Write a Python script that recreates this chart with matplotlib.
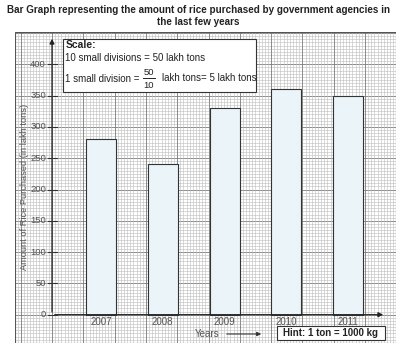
import numpy as np
import matplotlib.pyplot as plt

plt.rcParams['font.family'] = ['Liberation Sans', 'DejaVu Sans']

# data
years = ['2007', '2008', '2009', '2010', '2011']
rice = [280, 240, 330, 360, 350]
y_ticks = [0, 50, 100, 150, 200, 250, 300, 350, 400]

W, H = 415, 351
fig = plt.figure(figsize=(W / 100, H / 100), dpi=100)

# graph paper area in pixels
left, right, top, bottom = 15, 396, 32, 343
ax = fig.add_axes([left / W, 1 - bottom / H, (right - left) / W, (bottom - top) / H])

# pixel -> data mapping
x0_px, dx_px = 101, 61.75          # centre of first bar, spacing between bars
y0_px, py = 314.7, 0.626           # pixel of value 0, pixels per unit
def xd(p):
    return (p - x0_px) / dx_px
def yd(p):
    return (y0_px - p) / py

ax.set_xlim(xd(left), xd(right))
ax.set_ylim(yd(bottom), yd(top))
ax.axis('off')

# graph paper grid (5 units per small division)
step_y = 5
step_x = step_y * py / dx_px
ax_x = xd(52)
ys = np.arange(-50, 460, step_y)
xs = ax_x + np.arange(-12, 200) * step_x
for y in ys:
    major = (y % 50 == 0)
    ax.axhline(y, color='#7a7a7a' if major else '#bdbdbd', lw=0.6 if major else 0.4, zorder=0)
for i, x in enumerate(xs):
    major = ((i - 12) % 10 == 0)
    ax.axvline(x, color='#7a7a7a' if major else '#bdbdbd', lw=0.6 if major else 0.4, zorder=0)
ax.add_patch(plt.Rectangle((xd(left), yd(bottom)), xd(right) - xd(left), yd(top) - yd(bottom),
                           fill=False, ec='#555555', lw=0.8, zorder=1))

# bars
pos = np.arange(len(years))
ax.bar(pos, rice, width=30 / dx_px, color='#eaf4f9', edgecolor='#333333', lw=0.8, zorder=3)

# axes with arrows
ax.annotate('', xy=(ax_x, yd(36)), xytext=(ax_x, 0),
            arrowprops=dict(arrowstyle='-|>', color='#222222', lw=0.9, mutation_scale=7), zorder=4)
ax.annotate('', xy=(xd(386), 0), xytext=(ax_x, 0),
            arrowprops=dict(arrowstyle='-|>', color='#222222', lw=0.9, mutation_scale=7), zorder=4)

# y ticks
for t in y_ticks:
    ax.plot([xd(48), xd(57)], [t, t], color='#333333', lw=0.8, zorder=4)
    ax.text(xd(46), t, str(t), ha='right', va='center', fontsize=6.8, color='#555555', zorder=5)
ax.text(xd(25), (yd(100) + yd(273)) / 2, 'Amount of Rice Purchased (in lakh tons)', rotation=90,
        ha='center', va='center', fontsize=6.7, color='#555555', zorder=5)

# x labels
for p, lab in zip(pos, years):
    ax.text(p, yd(322), lab, ha='center', va='center', fontsize=7, color='#555555', zorder=5)
ax.text(xd(207), yd(334), 'Years', ha='center', va='center', fontsize=7, color='#555555', zorder=5)
ax.annotate('', xy=(xd(264), yd(334)), xytext=(xd(224), yd(334)),
            arrowprops=dict(arrowstyle='-|>', color='#333333', lw=0.8, mutation_scale=6), zorder=5)

# hint box
ax.add_patch(plt.Rectangle((xd(277), yd(340)), xd(385) - xd(277), yd(326) - yd(340),
                           fc='white', ec='#333333', lw=0.8, zorder=5))
ax.text(xd(330), yd(333), 'Hint: 1 ton = 1000 kg', ha='center', va='center',
        fontsize=7, fontweight='bold', color='#222222', zorder=6)

# scale box
ax.add_patch(plt.Rectangle((xd(63), yd(92)), xd(256) - xd(63), yd(39) - yd(92),
                           fc='white', ec='#333333', lw=0.8, zorder=5))
ax.text(xd(66), yd(45), 'Scale:', ha='left', va='center', fontsize=7.5, fontweight='bold',
        color='#222222', zorder=6)
ax.text(xd(65), yd(58), '10 small divisions = 50 lakh tons', ha='left', va='center',
        fontsize=7, color='#222222', zorder=6)
ax.text(xd(65), yd(79), '1 small division =', ha='left', va='center',
        fontsize=7, color='#222222', zorder=6)
ax.text(xd(149), yd(72), '50', ha='center', va='center', fontsize=6.8, color='#222222', zorder=6)
ax.plot([xd(143), xd(155)], [yd(78), yd(78)], color='#222222', lw=0.7, zorder=6)
ax.text(xd(149), yd(85), '10', ha='center', va='center', fontsize=6.8, color='#222222', zorder=6)
ax.text(xd(162), yd(78), 'lakh tons= 5 lakh tons', ha='left', va='center',
        fontsize=7, color='#222222', zorder=6)

# title
fig.text(198 / W, 1 - 10 / H, 'Bar Graph representing the amount of rice purchased by government agencies in',
         ha='center', va='center', fontsize=7.1, fontweight='bold', color='#222222')
fig.text(198 / W, 1 - 22 / H, 'the last few years', ha='center', va='center',
         fontsize=7.1, fontweight='bold', color='#222222')

fig.savefig('out.png', dpi=100, facecolor='white')
